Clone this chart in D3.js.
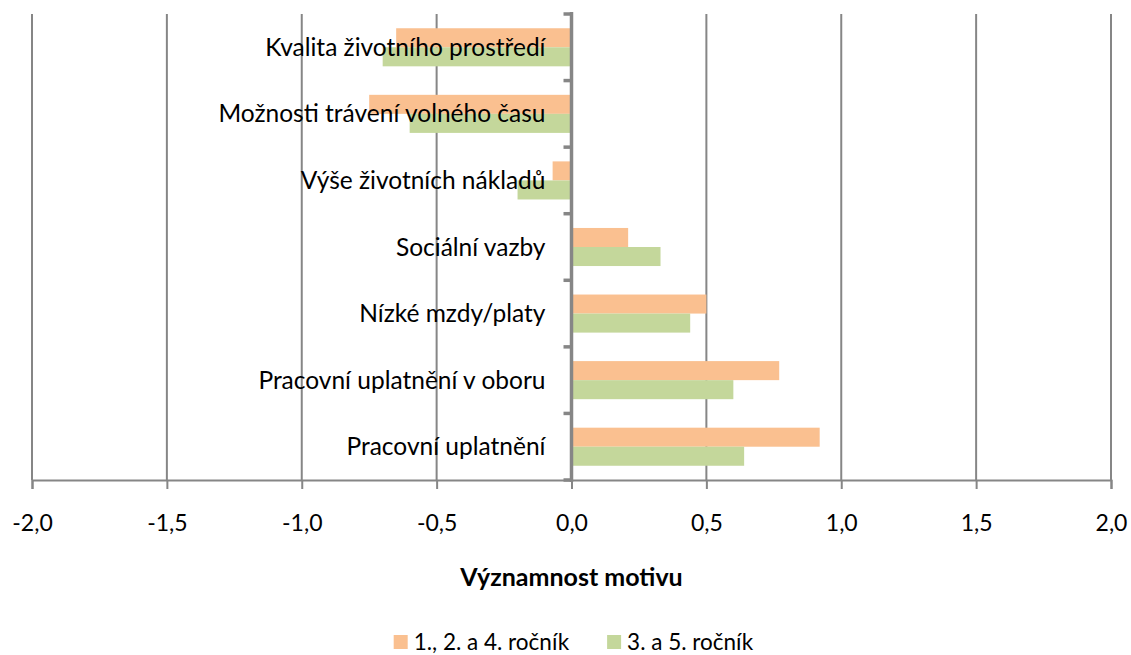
<!DOCTYPE html>
<html>
<head>
<meta charset="utf-8">
<script src="https://cdn.jsdelivr.net/npm/d3@7"></script>
<style>
  body { margin: 0; background: #fff; }
  text { font-family: Lato, "Open Sans", sans-serif; fill: #000; }
</style>
</head>
<body>
<svg width="1131" height="655"></svg>
<script>
const categories = ["Kvalita životního prostředí", "Možnosti trávení volného času", "Výše životních nákladů",
                    "Sociální vazby", "Nízké mzdy/platy", "Pracovní uplatnění v oboru", "Pracovní uplatnění"];
const seriesNames = ["1., 2. a 4. ročník", "3. a 5. ročník"];
const values1 = [-0.65, -0.75, -0.07, 0.21, 0.50, 0.77, 0.92];
const values2 = [-0.70, -0.60, -0.20, 0.33, 0.44, 0.60, 0.64];
const tickValues = [-2, -1.5, -1, -0.5, 0, 0.5, 1, 1.5, 2];
const colors = ["#FAC090", "#C4D79B"];

const svg = d3.select("svg"),
      grey = "#868686";

const x = d3.scaleLinear().domain([-2, 2]).range([32, 1111]);
const y = d3.scaleBand().domain(categories).range([14, 480]);
const bw = y.bandwidth();
const sub = d3.scaleBand().domain(seriesNames).range([bw * 0.214, bw * 0.786]);

// gridlines
svg.append("g")
    .selectAll("line")
    .data(tickValues.filter(d => d !== 0))
    .enter().append("line")
    .attr("x1", d => x(d)).attr("x2", d => x(d))
    .attr("y1", 14).attr("y2", 480)
    .attr("stroke", grey).attr("stroke-width", 2);

// bars
const rows = categories.map((c, i) => ({cat: c, vals: [values1[i], values2[i]]}));
svg.append("g")
    .selectAll("g")
    .data(rows)
    .enter().append("g")
    .attr("transform", d => "translate(0," + y(d.cat) + ")")
    .selectAll("rect")
    .data(d => d.vals.map((v, j) => ({v: v, s: seriesNames[j], j: j})))
    .enter().append("rect")
    .attr("x", d => Math.min(x(0), x(d.v)))
    .attr("width", d => Math.abs(x(d.v) - x(0)))
    .attr("y", d => sub(d.s))
    .attr("height", sub.bandwidth())
    .attr("fill", d => colors[d.j]);

// category labels
svg.append("g")
    .selectAll("text")
    .data(categories)
    .enter().append("text")
    .attr("x", x(0) - 26)
    .attr("y", d => y(d) + bw / 2)
    .attr("dy", "0.35em")
    .attr("text-anchor", "end")
    .style("font-size", "24.5px")
    .text(d => d);

// x axis
const xAxis = svg.append("g")
    .attr("transform", "translate(0,480)")
    .call(d3.axisBottom(x).tickValues(tickValues).tickSize(9).tickPadding(26)
          .tickFormat(d => d.toFixed(1).replace(".", ",")));
xAxis.select(".domain").attr("stroke", grey).attr("stroke-width", 2);
xAxis.selectAll(".tick line").attr("stroke", grey).attr("stroke-width", 2);
xAxis.selectAll("text").style("font-size", "23px").attr("font-family", null);

// y axis at zero
svg.append("line")
    .attr("x1", x(0)).attr("x2", x(0))
    .attr("y1", 12).attr("y2", 482)
    .attr("stroke", grey).attr("stroke-width", 3.5);
svg.append("g")
    .selectAll("line")
    .data(d3.range(categories.length + 1))
    .enter().append("line")
    .attr("x1", x(0) - 8).attr("x2", x(0))
    .attr("y1", i => 14 + i * y.step()).attr("y2", i => 14 + i * y.step())
    .attr("stroke", grey).attr("stroke-width", 3.5);

// axis title
svg.append("text")
    .attr("x", x(0)).attr("y", 577)
    .attr("dy", "0.35em")
    .attr("text-anchor", "middle")
    .style("font-size", "25px").style("font-weight", "bold")
    .text("Významnost motivu");

// legend
const legend = svg.append("g");
let lx = 0;
seriesNames.forEach((s, j) => {
  legend.append("rect").attr("x", lx).attr("y", -7).attr("width", 14).attr("height", 14).attr("fill", colors[j]);
  const t = legend.append("text").attr("x", lx + 20).attr("dy", "0.35em")
      .style("font-size", "22.5px").text(s);
  lx += 20 + t.node().getComputedTextLength() + (j < seriesNames.length - 1 ? 38 : 0);
});
legend.attr("transform", "translate(" + (x(0) + 2 - lx / 2) + ",642)");
</script>
</body>
</html>
